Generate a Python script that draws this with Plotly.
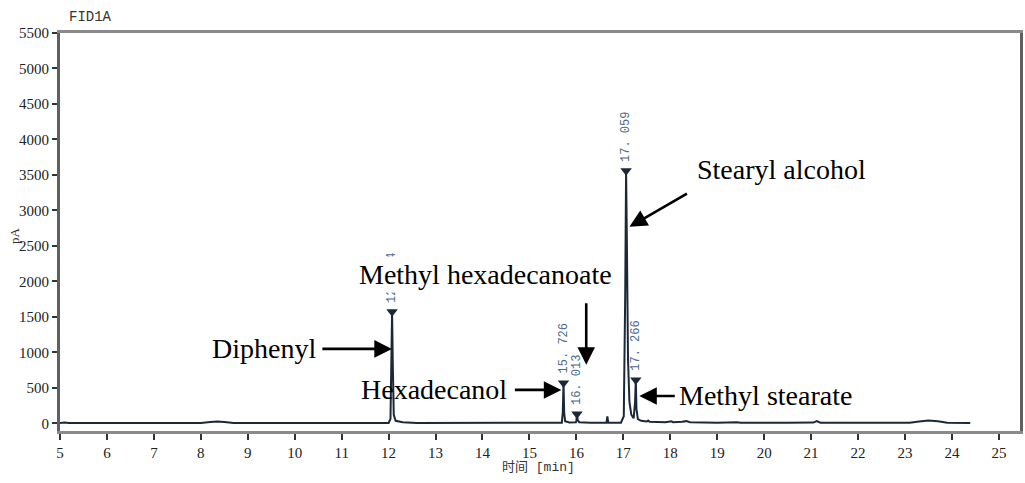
import plotly.graph_objects as go

# ---- chromatogram trace (retention time [min], signal [pA]) ----
time_min = [5.00, 5.10, 5.18, 6.00, 7.50, 8.00, 8.20, 8.35, 8.50, 8.70, 10.00, 11.80,
            12.00, 12.04, 12.06, 12.074, 12.09, 12.11, 12.15, 12.30, 12.60, 14.00,
            15.50, 15.69, 15.71, 15.726, 15.74, 15.76, 15.85, 15.99, 16.00, 16.013,
            16.03, 16.06, 16.30, 16.64, 16.66, 16.68, 16.95, 17.01, 17.04, 17.059,
            17.075, 17.10, 17.13, 17.17, 17.22, 17.25, 17.266, 17.28, 17.31, 17.38,
            17.50, 17.53, 17.56, 17.90, 18.02, 18.06, 18.25, 18.34, 18.42, 19.00,
            19.42, 19.50, 20.50, 21.05, 21.12, 21.20, 22.50, 23.10, 23.30, 23.50,
            23.70, 23.90, 24.39]
signal_pA = [3, 12, 4, 3, 3, 4, 18, 25, 18, 4, 3, 3,
             5, 60, 700, 1570, 800, 120, 35, 15, 5, 3,
             5, 8, 150, 569, 150, 30, 12, 15, 40, 130,
             40, 15, 6, 6, 95, 6, 8, 100, 1800, 3557,
             2600, 900, 300, 120, 70, 300, 611, 200, 60, 35,
             25, 40, 22, 15, 28, 15, 20, 30, 15, 8,
             15, 8, 6, 10, 30, 8, 6, 8, 25, 38,
             28, 8, 5]

# ---- integrated peaks ----
peak_rt = [12.074, 15.726, 16.013, 17.059, 17.266]
peak_height = [1570, 569, 130, 3557, 611]
peak_labels = ["12. 074", "15. 726", "16. 013", "17. 059", "17. 266"]

# ---- compound annotations: label text, label position, arrow head, arrow offset(px) ----
compounds = ["Diphenyl", "Methyl hexadecanoate", "Hexadecanol", "Stearyl alcohol", "Methyl stearate"]
text_x = [9.35, 14.07, 12.97, 20.36, 20.02]
text_y = [1059, 2100, 470, 3573, 385]
head_x = [12.07, 16.21, 15.68, 17.13, 17.34]
head_y = [1048, 823, 470, 2769, 385]
tail_dx = [-71, 0, -48, 59, 37]
tail_dy = [0, -63, 0, -34, 0]

x_ticks = list(range(5, 26))
y_ticks = list(range(0, 5501, 500))

line_col = "#1b2838"
tick_font = dict(family="Liberation Serif", size=15, color="#222")

fig = go.Figure()
fig.add_trace(go.Scatter(x=time_min, y=signal_pA, mode="lines",
                         line=dict(color=line_col, width=2), showlegend=False))
fig.add_trace(go.Scatter(x=peak_rt, y=peak_height, mode="markers",
                         marker=dict(symbol="triangle-down", size=10, color=line_col),
                         showlegend=False))

# peak retention-time labels (rotated)
for rt, h, lab in zip(peak_rt, peak_height, peak_labels):
    fig.add_annotation(x=rt, y=h, text=lab, showarrow=False, textangle=-90,
                       xanchor="center", yanchor="bottom", yshift=7,
                       font=dict(family="Liberation Mono", size=12, color="#4d6b8a"))

# arrows
for hx, hy, dx, dy in zip(head_x, head_y, tail_dx, tail_dy):
    fig.add_annotation(x=hx, y=hy, ax=dx, ay=dy, text="", showarrow=True,
                       arrowhead=2, arrowsize=1.35, arrowwidth=2.6, arrowcolor="black",
                       standoff=0, startstandoff=0)

# compound names
for name, tx, ty in zip(compounds, text_x, text_y):
    is_top = name == "Methyl hexadecanoate"
    fig.add_annotation(x=tx, y=ty, text=name, showarrow=False,
                       xanchor="center", yanchor="middle",
                       bgcolor="white" if is_top else "rgba(0,0,0,0)",
                       borderpad=2 if is_top else 0,
                       font=dict(family="Liberation Serif", size=28, color="black"))

# header / axis titles
fig.add_annotation(xref="paper", yref="paper", x=0.007, y=1.0, yshift=16,
                   text="FID1A", showarrow=False, xanchor="left", yanchor="middle",
                   font=dict(family="Liberation Mono", size=14, color="#333"))
fig.add_annotation(xref="paper", yref="paper", x=0, xshift=-45, y=0.49,
                   text="pA", showarrow=False, textangle=-90,
                   xanchor="center", yanchor="middle",
                   font=dict(family="Liberation Serif", size=13, color="#333"))
fig.add_annotation(xref="x", yref="paper", x=15.2, y=0, yshift=-36,
                   text="时间 [min]", showarrow=False, xanchor="center", yanchor="middle",
                   font=dict(family="Liberation Mono, Noto Sans CJK SC", size=13, color="#333"))

fig.update_layout(
    width=1025, height=483,
    margin=dict(l=60, r=2, t=33, b=52),
    paper_bgcolor="white", plot_bgcolor="white",
    showlegend=False,
    xaxis=dict(range=[5, 25.45], tickvals=x_ticks, ticktext=[str(v) for v in x_ticks],
               showgrid=False, zeroline=False, showline=True, mirror=True,
               linecolor="#8a8a8a", linewidth=3, ticks="outside", ticklen=6,
               tickwidth=1.5, tickcolor="#333", tickfont=tick_font),
    yaxis=dict(range=[-109, 5500], tickvals=y_ticks, ticktext=[str(v) for v in y_ticks],
               showgrid=False, zeroline=False, showline=True, mirror=True,
               linecolor="#606060", linewidth=3, ticks="outside", ticklen=5,
               tickwidth=1.5, tickcolor="#333", tickfont=tick_font),
)

fig.write_html("out.html")
